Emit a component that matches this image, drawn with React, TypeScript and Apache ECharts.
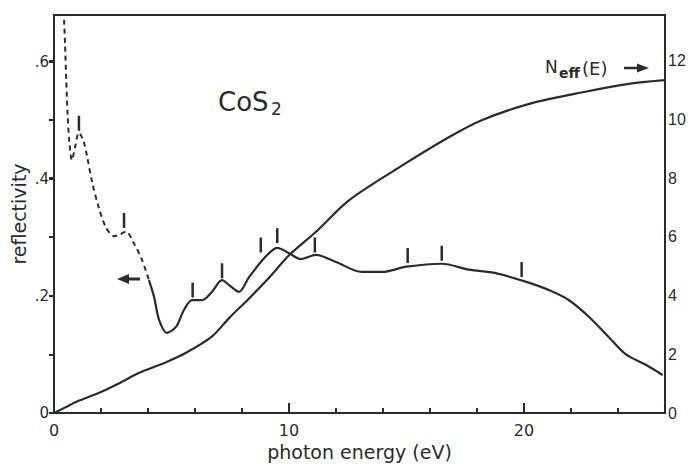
import React, { useEffect, useRef } from "react";
import * as echarts from "echarts";

// photon energy (eV) / reflectivity, dashed (extrapolated) low-energy part
const reflDashE = [0.43, 0.47, 0.52, 0.58, 0.66, 0.76, 0.9, 1.06, 1.25, 1.4, 1.63, 1.9, 2.2, 2.55, 2.8, 3.06, 3.4, 3.74, 4.04];
const reflDashR = [0.672, 0.63, 0.57, 0.51, 0.46, 0.432, 0.455, 0.479, 0.465, 0.44, 0.393, 0.352, 0.318, 0.302, 0.305, 0.31, 0.29, 0.262, 0.227];

// measured reflectivity (solid)
const reflE = [4.04, 4.26, 4.47, 4.8, 5.19, 5.53, 5.87, 6.3, 6.7, 7.15, 7.5, 7.87, 8.3, 8.8, 9.2, 9.5, 10, 10.5, 11.15, 12, 13.1, 13.96, 15.0, 16.5, 17.66, 18.8, 20.1, 21.06, 21.9, 22.77, 23.6, 24.34, 25.2, 25.9];
const reflR = [0.227, 0.198, 0.159, 0.137, 0.147, 0.176, 0.193, 0.193, 0.206, 0.227, 0.217, 0.207, 0.232, 0.258, 0.275, 0.282, 0.273, 0.263, 0.27, 0.258, 0.241, 0.241, 0.25, 0.255, 0.245, 0.239, 0.224, 0.21, 0.193, 0.164, 0.13, 0.1, 0.082, 0.065];

// effective number of electrons N_eff(E)
const neffE = [0, 0.5, 1.0, 1.9, 2.8, 3.6, 4.77, 5.6, 6.7, 7.45, 8.3, 9.2, 10, 11.15, 12.55, 14.7, 16.8, 18.2, 20.3, 22.5, 24.6, 26];
const neffN = [0, 0.2, 0.4, 0.68, 1.02, 1.36, 1.73, 2.04, 2.59, 3.23, 3.9, 4.65, 5.37, 6.17, 7.24, 8.37, 9.39, 9.97, 10.54, 10.92, 11.22, 11.33];

// structure markers (vertical bars above the reflectivity curve)
const markE = [1.06, 2.98, 5.9, 7.15, 8.8, 9.5, 11.1, 15.05, 16.5, 19.9];
const markR = [0.495, 0.329, 0.21, 0.243, 0.287, 0.303, 0.287, 0.269, 0.273, 0.245];

// tick labels
const xTickLabels = [0, 10, 20];
const leftTicks = [0, 0.2, 0.4, 0.6];
const leftTickLabels = ["0", ".2", ".4", ".6"];
const rightTicks = [0, 2, 4, 6, 8, 10, 12];

const INK = "#2b2b2b";
const FONT = "DejaVu Sans";
const NARROW = "Liberation Sans";

const zip = (a: number[], b: number[]) => a.map((v, i) => [v, b[i]]);

export default function App() {
  const ref = useRef<HTMLDivElement>(null);
  useEffect(() => {
    if (!ref.current) return;
    const chart = echarts.init(ref.current, null, { renderer: "svg" });
    chart.setOption({
      animation: false,
      backgroundColor: "#ffffff",
      grid: {
        left: 54,
        right: 23,
        top: 15,
        bottom: 51,
        containLabel: false,
        outerBoundsMode: "none",
        show: true,
        borderColor: INK,
        borderWidth: 2,
        backgroundColor: "transparent",
      },
      xAxis: [
        {
          type: "value",
          min: 0,
          max: 26,
          interval: 2,
          name: "photon energy (eV)",
          nameLocation: "middle",
          nameGap: 29,
          nameMoveOverlap: false,
          nameTextStyle: { color: INK, fontFamily: FONT, fontSize: 19 },
          axisLine: { lineStyle: { color: INK, width: 2 } },
          axisTick: { inside: true, length: 5, lineStyle: { color: INK, width: 2 } },
          axisLabel: {
            color: INK,
            fontFamily: FONT,
            fontSize: 16,
            margin: 9,
            customValues: xTickLabels,
            formatter: (v: number) => String(v),
          },
          splitLine: { show: false },
        },
        {
          type: "value",
          min: 0,
          max: 26,
          position: "bottom",
          axisLine: { show: false },
          axisTick: { inside: true, length: 10, customValues: [10, 20], lineStyle: { color: INK, width: 2 } },
          axisLabel: { show: false },
          splitLine: { show: false },
        },
      ],
      yAxis: [
        {
          type: "value",
          min: 0,
          max: 0.68,
          position: "left",
          name: "reflectivity",
          nameLocation: "middle",
          nameRotate: 90,
          nameGap: 26,
          nameMoveOverlap: false,
          nameTextStyle: { color: INK, fontFamily: FONT, fontSize: 19 },
          axisLine: { show: true, lineStyle: { color: INK, width: 2 } },
          axisTick: { show: true, length: 5, customValues: leftTicks, lineStyle: { color: INK, width: 2 } },
          axisLabel: {
            color: INK,
            fontFamily: FONT,
            fontSize: 15,
            margin: 5,
            customValues: leftTicks,
            formatter: (v: number) => {
              const i = leftTicks.findIndex((t) => Math.abs(t - v) < 1e-6);
              return i >= 0 ? leftTickLabels[i] : "";
            },
          },
          splitLine: { show: false },
        },
        {
          type: "value",
          min: 0,
          max: 13.55,
          position: "right",
          axisLine: { show: true, lineStyle: { color: INK, width: 2 } },
          axisTick: { show: true, inside: true, length: 5, customValues: rightTicks, lineStyle: { color: INK, width: 2 } },
          axisLabel: {
            color: INK,
            fontFamily: NARROW,
            fontSize: 16,
            margin: 3,
            customValues: rightTicks,
            formatter: (v: number) => String(v),
          },
          splitLine: { show: false },
        },
      ],
      series: [
        {
          type: "line",
          xAxisIndex: 0,
          yAxisIndex: 0,
          data: zip(reflDashE, reflDashR),
          smooth: 0.3,
          showSymbol: false,
          lineStyle: { color: INK, width: 2, type: [5, 4] },
        },
        {
          type: "line",
          xAxisIndex: 0,
          yAxisIndex: 0,
          data: zip(reflE, reflR),
          smooth: 0.3,
          showSymbol: false,
          lineStyle: { color: INK, width: 2.2 },
        },
        {
          type: "line",
          xAxisIndex: 0,
          yAxisIndex: 1,
          data: zip(neffE, neffN),
          smooth: 0.3,
          showSymbol: false,
          lineStyle: { color: INK, width: 2.2 },
        },
        {
          type: "scatter",
          xAxisIndex: 0,
          yAxisIndex: 0,
          data: zip(markE, markR),
          symbol: "rect",
          symbolSize: [2.5, 15],
          itemStyle: { color: INK, opacity: 1 },
        },
      ],
      graphic: [
        { type: "text", x: 218, y: 102, style: { text: "CoS", fill: INK, font: `26px ${FONT}`, textVerticalAlign: "middle" } },
        { type: "text", x: 271, y: 109, style: { text: "2", fill: INK, font: `17px ${FONT}`, textVerticalAlign: "middle" } },
        { type: "text", x: 545, y: 67, style: { text: "N", fill: INK, font: `17px ${FONT}`, textVerticalAlign: "middle" } },
        { type: "text", x: 559, y: 73, style: { text: "eff", fill: INK, font: `bold 14px ${FONT}`, textVerticalAlign: "middle" } },
        { type: "text", x: 582, y: 68, style: { text: "(E)", fill: INK, font: `18px ${FONT}`, textVerticalAlign: "middle" } },
        { type: "line", shape: { x1: 624, y1: 68, x2: 639, y2: 68 }, style: { stroke: INK, lineWidth: 2.5 } },
        { type: "polygon", shape: { points: [[649, 68], [637, 63.5], [637, 72.5]] }, style: { fill: INK } },
        { type: "line", shape: { x1: 127, y1: 279, x2: 140, y2: 279 }, style: { stroke: INK, lineWidth: 3 } },
        { type: "polygon", shape: { points: [[117, 279], [129, 274], [129, 284]] }, style: { fill: INK } },
      ],
    });
    return () => chart.dispose();
  }, []);
  return <div ref={ref} style={{ position: "fixed", left: 0, top: 0, width: 688, height: 464 }} />;
}
